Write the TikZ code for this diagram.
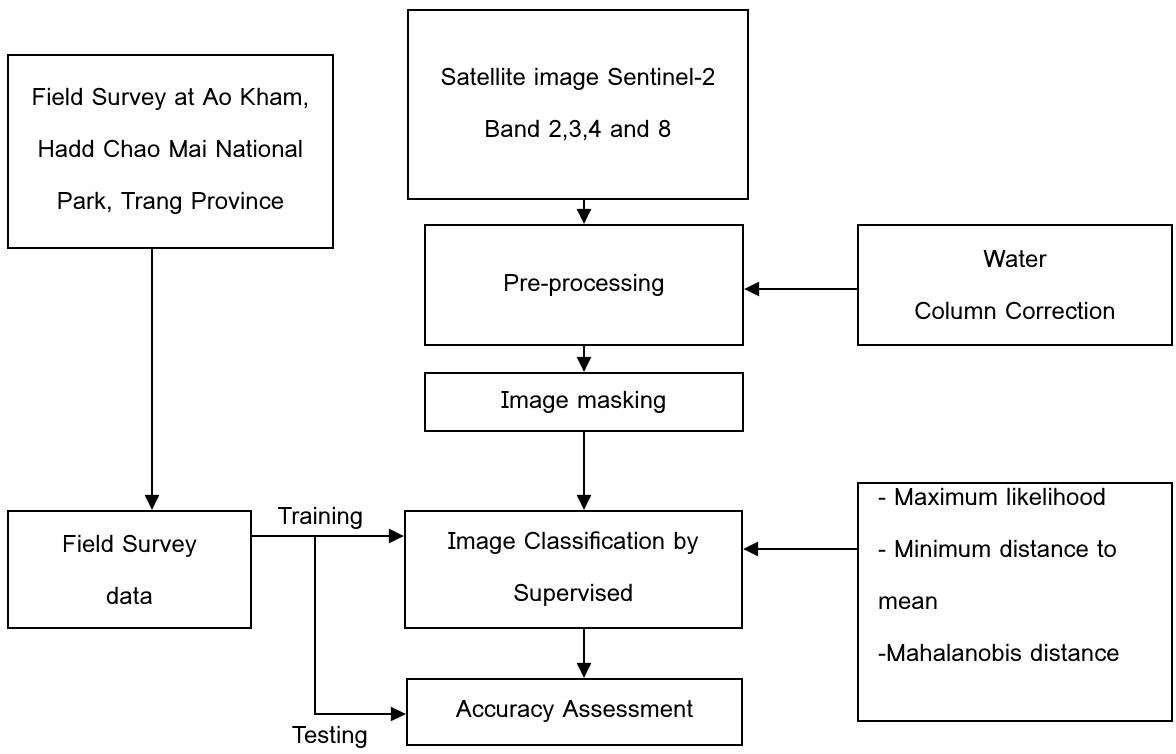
\documentclass[tikz,border=0pt]{standalone}
\usepackage{fontspec}
\setmainfont{Loma}
\usetikzlibrary{arrows.meta}

\tikzset{
  stepbox/.style={draw, line width=2.2pt, align=center, inner sep=0pt,
    font=\fontsize{24}{52}\selectfont},
  flow/.style={line width=2.4pt, -{Triangle[length=15pt,width=14pt]}},
  thinflow/.style={line width=1.3pt, -{Triangle[length=15pt,width=14pt]}},
  tag/.style={font=\fontsize{24}{26}\selectfont, inner sep=0pt}
}

\begin{document}
\begin{tikzpicture}[x=1pt,y=-1pt]
            \useasboundingbox (0,0) rectangle (1176,753);

            \node[stepbox, minimum width=325pt, minimum height=193pt] (survey) at (170.5,151.5)
              {Field Survey at Ao Kham,\\Hadd Chao Mai National\\Park, Trang Province};
            \node[stepbox, minimum width=340pt, minimum height=189pt] (sat) at (578,104.5)
              {Satellite image Sentinel-2\\Band 2,3,4 and 8};
            \node[stepbox, minimum width=318pt, minimum height=120pt] (pre) at (584,285)
              {Pre-processing};
            \node[stepbox, minimum width=314pt, minimum height=120pt] (water) at (1015,285)
              {Water\\Column Correction};
            \node[stepbox, minimum width=318pt, minimum height=58pt] (mask) at (584,402)
              {Image masking};
            \node[stepbox, minimum width=243pt, minimum height=117pt] (data) at (129.5,569.5)
              {Field Survey\\data};
            \node[stepbox, minimum width=337pt, minimum height=117pt] (cls) at (573.5,569.5)
              {Image Classification by\\Supervised};
            \node[stepbox, minimum width=335pt, minimum height=66pt] (acc) at (574.5,712)
              {Accuracy Assessment};
            \node[stepbox, minimum width=314pt, minimum height=238pt] (meth) at (1015,602) {};
            \node[stepbox, draw=none, align=left, anchor=north west] (methtxt) at (877,487)
              {- Maximum likelihood\\- Minimum distance to\\mean\\-Mahalanobis distance};

            % joints of the connectors
            \coordinate (col) at (584,0);
            \coordinate (down) at (152,0);
            \coordinate (tr) at (0,536);
            \coordinate (split) at (315,536);
            \coordinate (bend) at (315,714);
            \coordinate (side) at (0,549);

            \draw[flow] (sat.south -| col) -- (pre.north -| col);
            \draw[flow] (pre.south -| col) -- (mask.north -| col);
            \draw[flow] (mask.south -| col) -- (cls.north -| col);
            \draw[flow] (cls.south -| col) -- (acc.north -| col);
            \draw[flow] (water.west |- 0,289) -- (pre.east |- 0,289);
            \draw[flow] (meth.west |- side) -- (cls.east |- side);
            \draw[flow] (survey.south -| down) -- (data.north -| down);
            \draw[flow] (data.east |- tr) -- node[tag, pos=0.45, above=5pt] (training) {Training} (cls.west |- tr);
            \draw[thinflow] (split) -- (bend) -- (acc.west |- bend);
            \node[tag] (testing) at (330,737) {Testing};

        \end{tikzpicture}
\end{document}
